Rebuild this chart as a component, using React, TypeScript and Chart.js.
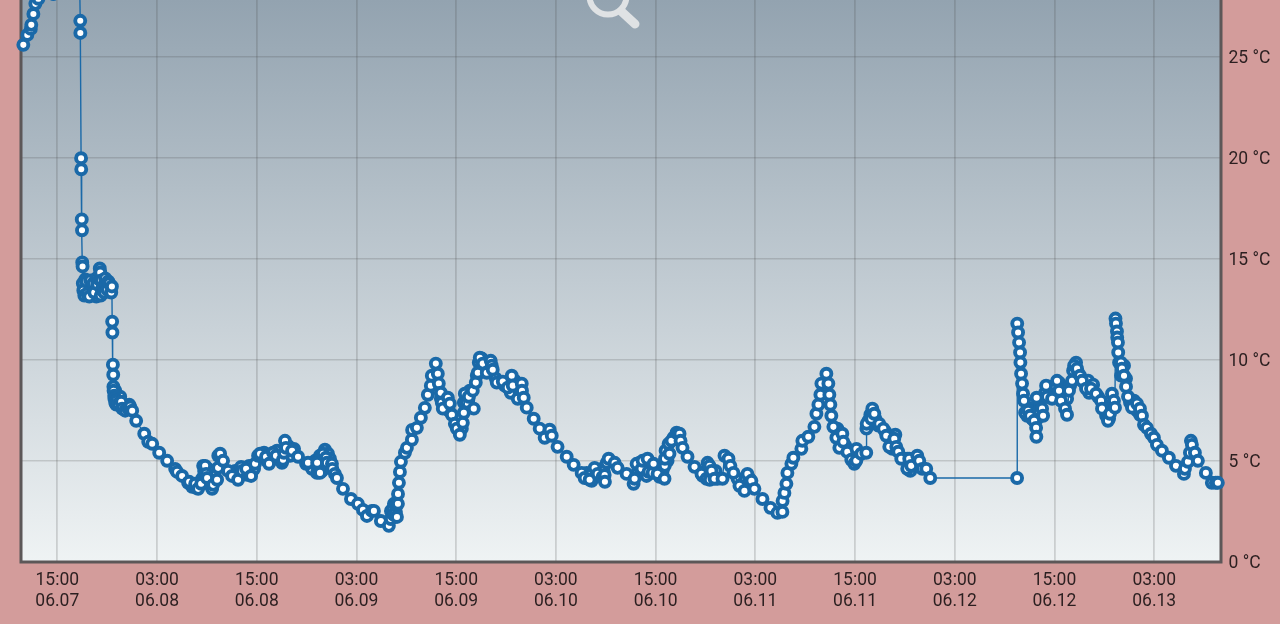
import React, { useEffect, useRef } from "react";
import { Chart, registerables } from "chart.js";

Chart.register(...registerables);

// hours after 15:00 on 06.07
const hours = [
  -4.09, -3.61, -3.19, -3.13, -2.88, -2.64, -2.28, -1.44, -0.48, 1.56,
  2.7, 2.76, 2.77, 2.86, 2.88, 2.94, 2.97, 3.0, 3.04, 3.07,
  3.13, 3.25, 3.49, 3.61, 3.85, 3.97, 4.33, 4.45, 4.69, 4.81,
  5.05, 5.11, 5.17, 5.23, 5.29, 5.35, 5.53, 5.65, 5.77, 5.89,
  6.01, 6.13, 6.25, 6.49, 6.57, 6.6, 6.63, 6.69, 6.73, 6.75,
  6.77, 6.85, 6.87, 6.97, 7.09, 7.33, 7.69, 7.81, 8.17, 8.53,
  8.77, 9.01, 9.49, 10.46, 10.94, 11.42, 12.26, 13.22, 14.18, 14.42,
  15.02, 15.74, 15.87, 16.59, 16.95, 17.31, 17.67, 17.79, 17.91, 18.03,
  18.75, 19.23, 19.35, 19.37, 19.59, 19.95, 20.55, 21.03, 21.75, 22.24,
  22.72, 23.32, 23.8, 24.16, 24.4, 25.12, 25.48, 25.96, 26.32, 27.16,
  27.28, 27.4, 27.52, 28.25, 28.97, 29.93, 30.17, 31.25, 31.27, 31.61,
  31.97, 32.33, 32.45, 33.05, 33.1, 33.41, 33.65, 34.38, 35.34, 36.18,
  36.78, 37.26, 37.86, 38.1, 38.94, 39.9, 40.14, 40.38, 40.5, 40.62,
  40.75, 40.87, 40.99, 41.0, 41.11, 41.23, 41.35, 41.83, 42.07, 42.67,
  42.7, 43.27, 43.75, 44.23, 44.59, 44.95, 45.07, 45.55, 45.79, 45.91,
  46.15, 46.27, 46.39, 47.0, 47.24, 47.48, 47.84, 48.08, 48.44, 48.8,
  48.92, 49.04, 49.52, 50.0, 50.12, 50.36, 50.6, 50.84, 51.2, 51.68,
  52.16, 52.28, 52.4, 52.88, 53.61, 54.21, 54.69, 54.81, 55.41, 55.89,
  55.92, 56.13, 56.49, 57.33, 58.05, 58.65, 59.25, 59.5, 60.2, 61.3,
  62.14, 63.1, 63.46, 64.06, 64.66, 65.03, 65.6, 65.87, 65.9, 66.11,
  66.35, 67.07, 67.43, 68.51, 69.35, 69.47, 69.71, 70.31, 70.43, 70.91,
  71.03, 71.15, 71.63, 71.75, 72.23, 73.07, 73.1, 73.13, 73.67, 73.91,
  74.52, 74.88, 75.0, 75.24, 75.84, 76.68, 77.52, 78.13, 78.49, 78.52,
  78.73, 79.09, 80.05, 80.29, 80.77, 81.0, 81.37, 82.09, 82.69, 83.05,
  83.53, 83.89, 84.86, 85.82, 86.66, 87.26, 87.28, 87.5, 87.74, 87.86,
  88.34, 88.58, 89.54, 89.66, 90.38, 91.11, 91.35, 91.59, 91.83, 91.95,
  92.55, 92.79, 92.91, 93.03, 93.15, 93.39, 93.75, 94.11, 94.47, 94.59,
  95.07, 95.55, 95.91, 96.15, 96.17, 96.75, 97.35, 97.37, 97.4, 97.96,
  98.08, 98.32, 98.92, 99.4, 99.76, 100.12, 100.72, 100.96, 101.2, 101.56,
  102.28, 102.52, 102.76, 103.49, 103.73, 104.09, 104.57, 105.05, 115.5, 115.52,
  115.62, 115.74, 115.86, 115.9, 115.98, 116.1, 116.22, 116.34, 116.46, 116.83,
  117.07, 117.55, 117.79, 117.82, 117.85, 118.15, 118.51, 118.63, 118.99, 119.11,
  119.71, 120.31, 120.55, 120.79, 121.27, 121.51, 121.75, 122.11, 122.36, 122.72,
  123.08, 123.32, 123.8, 124.4, 125.0, 125.6, 125.72, 126.44, 126.68, 126.92,
  127.16, 127.28, 127.34, 127.4, 127.52, 127.55, 127.64, 127.67, 128.0, 128.12,
  128.37, 128.61, 128.85, 129.33, 129.93, 130.29, 130.53, 130.77, 131.13, 131.61,
  131.97, 132.33, 132.93, 133.77, 134.62, 135.58, 135.7, 136.06, 136.3, 136.42,
  136.54, 136.9, 137.26, 138.22, 138.94, 139.42, 139.66,
];

const temps = [
  25.6, 26.09, 26.39, 26.59, 27.13, 27.63, 27.88, 28.42, 28.12, 28.82,
  28.32, 26.79, 26.19, 19.99, 19.44, 16.96, 16.42, 14.83, 14.63, 13.79,
  13.44, 13.19, 13.89, 13.29, 13.14, 13.94, 13.79, 13.34, 14.04, 13.74,
  13.99, 14.53, 14.33, 13.19, 13.94, 13.49, 13.64, 13.34, 14.04, 13.74,
  13.49, 13.89, 13.79, 13.34, 13.64, 11.9, 11.36, 9.77, 9.27, 8.68,
  8.48, 8.23, 8.08, 7.88, 7.98, 7.83, 7.93, 7.59, 7.49, 7.59,
  7.69, 7.49, 6.99, 6.35, 5.95, 5.85, 5.41, 5.01, 4.61, 4.46,
  4.26, 3.92, 3.97, 3.87, 3.62, 3.87, 4.51, 4.76, 4.36, 4.16,
  3.82, 4.07, 4.66, 5.26, 5.36, 5.01, 4.51, 4.26, 4.07, 4.51,
  4.61, 4.26, 4.86, 5.26, 5.36, 5.21, 4.86, 5.41, 5.26, 5.06,
  5.41, 6.0, 5.65, 5.51, 5.21, 4.86, 4.91, 4.41, 4.91, 4.41,
  5.36, 5.16, 4.91, 4.86, 4.61, 4.36, 4.16, 3.62, 3.12, 2.88,
  2.58, 2.28, 2.53, 2.53, 2.03, 1.79, 2.13, 2.63, 2.33, 2.38,
  2.78, 2.23, 2.88, 3.37, 3.92, 4.46, 4.96, 5.41, 5.65, 6.05,
  6.54, 6.64, 7.14, 7.63, 8.28, 8.73, 9.22, 9.82, 9.32, 8.83,
  8.38, 7.88, 7.59, 8.13, 7.84, 7.29, 6.84, 6.6, 6.3, 6.89,
  7.39, 8.33, 8.18, 8.48, 7.59, 8.88, 9.37, 10.11, 9.82, 9.37,
  9.96, 9.72, 9.52, 8.88, 8.93, 8.63, 9.22, 8.73, 8.08, 8.83,
  8.48, 8.13, 7.64, 7.09, 6.6, 6.15, 6.55, 6.25, 5.7, 5.21,
  4.81, 4.41, 4.16, 4.07, 4.66, 4.36, 4.2, 4.31, 3.97, 4.91,
  5.11, 4.91, 4.66, 4.36, 3.87, 4.12, 4.86, 4.61, 5.01, 4.26,
  5.11, 4.46, 4.41, 4.86, 4.36, 4.12, 4.76, 5.11, 5.36, 6.0,
  6.4, 6.35, 6.0, 5.65, 5.21, 4.71, 4.36, 4.12, 4.76, 4.07,
  4.51, 4.12, 4.12, 5.26, 5.11, 4.76, 4.41, 3.77, 3.52, 4.36,
  4.02, 3.62, 3.12, 2.68, 2.43, 2.48, 3.02, 3.42, 3.87, 4.41,
  4.86, 5.16, 5.6, 6.0, 6.2, 6.69, 7.34, 7.79, 8.28, 8.83,
  9.32, 8.83, 8.28, 7.79, 7.24, 6.69, 6.15, 5.65, 6.35, 5.95,
  5.45, 5.06, 4.86, 5.01, 5.6, 5.36, 5.41, 6.6, 6.84, 7.09,
  7.59, 7.34, 6.84, 6.6, 6.25, 5.7, 6.1, 5.7, 5.46, 5.11,
  4.61, 5.11, 4.76, 5.26, 5.01, 4.61, 4.61, 4.16, 4.16, 11.8,
  11.36, 10.86, 10.37, 9.87, 9.32, 8.83, 8.33, 7.98, 7.39, 7.49,
  7.24, 6.99, 6.64, 6.2, 8.13, 7.49, 7.59, 7.24, 8.73, 8.18,
  8.08, 8.97, 8.48, 7.98, 7.59, 7.29, 8.48, 8.97, 9.72, 9.57,
  9.22, 8.97, 8.58, 8.58, 8.33, 7.98, 7.59, 6.99, 7.34, 8.33,
  7.98, 7.64, 12.05, 11.8, 11.41, 11.11, 10.86, 10.37, 9.87, 9.57,
  9.22, 8.68, 8.18, 7.64, 7.84, 7.59, 7.24, 6.79, 6.64, 6.35,
  6.15, 5.8, 5.51, 5.16, 4.76, 4.36, 4.61, 4.96, 5.41, 6.0,
  5.8, 5.41, 5.01, 4.41, 3.92, 3.92, 3.92,
];

// readings buried in the dense clumps, drawn beneath the main trace
const clumpHours = [
  16.23, 16.71, 17.07, 17.43, 17.67, 17.55, 18.15, 18.39, 18.63, 18.87,
  21.4, 21.76, 22.12, 22.48, 22.84, 23.08, 23.44, 23.68,
  24.88, 25.24, 25.6, 26.08, 26.44, 26.8, 27.04, 27.77, 28.01, 28.49,
  30.65, 31.01, 31.37, 31.61, 31.85, 32.21, 32.57, 32.81, 31.85,
  40.15, 40.39, 40.75, 40.51,
  46.16, 46.52, 46.76, 47.12, 48.08, 48.68, 48.92, 49.28, 49.64,
  50.48, 50.72, 51.08, 51.33, 51.93, 52.77, 53.25, 53.85, 54.57, 55.05, 55.65,
  63.71, 64.07, 64.31, 65.27, 65.51, 65.75,
  69.84, 70.08, 70.68, 71.28, 72.0, 72.48, 72.84, 73.44, 73.2, 73.56, 74.16,
  77.65, 78.01, 78.25, 78.61, 78.85, 79.21, 79.45,
  81.86, 82.46, 82.82, 83.3,
  93.88, 94.24, 94.84, 96.28,
  97.6, 97.84, 98.44, 98.8, 99.64, 100.37, 100.49, 100.85,
  101.93, 102.29, 102.65, 103.01, 103.25, 103.49, 103.97,
  116.71, 117.07, 117.31, 117.55, 117.91, 118.27,
  118.88, 119.36, 119.6, 119.96, 120.08, 120.56, 121.04, 121.52, 121.88, 122.24, 122.6, 122.84,
  123.57, 124.05, 124.17, 124.65, 125.25, 125.97, 126.21, 126.57,
  127.77, 128.01, 128.37, 128.61, 129.09, 129.57, 129.93, 130.29,
  3.25, 3.37, 3.73, 4.09, 4.21, 4.69, 4.93,
  6.97, 7.21, 7.09, 7.57, 8.05, 8.65,
];

const clumpTemps = [
  3.72, 3.67, 3.82, 4.12, 4.22, 4.76, 4.61, 3.82, 3.62, 4.02,
  4.51, 4.41, 4.71, 4.41, 4.32, 4.76, 4.51, 4.61,
  5.41, 5.01, 5.26, 5.11, 5.51, 5.26, 4.91, 5.75, 5.26, 5.6,
  4.61, 5.01, 4.61, 5.26, 4.91, 5.56, 5.36, 5.11, 4.51,
  2.53, 2.28, 2.48, 2.88,
  8.08, 8.08, 7.74, 7.49, 7.09, 6.6, 7.89, 7.89, 8.48,
  9.23, 9.87, 10.07, 9.47, 9.67, 9.08, 8.93, 8.73, 8.38, 8.98, 8.33,
  4.41, 4.32, 4.02, 4.51, 4.61, 4.51,
  4.41, 4.91, 4.71, 4.81, 4.61, 4.22, 4.51, 5.01, 5.51, 5.85, 6.15,
  4.27, 4.51, 4.91, 4.27, 4.41, 4.51, 4.12,
  4.12, 3.87, 4.12, 4.12,
  6.6, 6.2, 5.75, 5.21,
  6.99, 7.29, 7.09, 6.75, 6.45, 6.0, 5.6, 6.3,
  5.11, 5.11, 4.51, 5.11, 5.01, 4.76, 4.71,
  7.24, 7.59, 7.09, 7.49, 7.09, 7.74,
  8.38, 8.68, 8.38, 8.23, 8.73, 8.88, 8.23, 8.08, 8.73, 9.47, 9.87, 9.37,
  8.88, 8.98, 8.38, 8.78, 8.18, 7.74, 7.24, 7.09,
  9.87, 9.23, 9.72, 9.08, 7.89, 7.99, 7.49, 7.29,
  13.59, 13.99, 13.69, 13.24, 13.44, 13.14, 13.44,
  8.48, 8.13, 7.79, 8.18, 7.69, 7.79,
];

const tickHours = [0, 12, 24, 36, 48, 60, 72, 84, 96, 108, 120, 132];
const tickTimes = ["15:00", "03:00", "15:00", "03:00", "15:00", "03:00", "15:00", "03:00", "15:00", "03:00", "15:00", "03:00"];
const tickDates = ["06.07", "06.08", "06.08", "06.09", "06.09", "06.10", "06.10", "06.11", "06.11", "06.12", "06.12", "06.13"];
const tempTicks = [0, 5, 10, 15, 20, 25];

const PINK = "#d39c9b";
const BLUE = "#1a69a8";
const TEXT = "#2b1f20";

const panel = {
  id: "panel",
  beforeDraw(chart: any) {
    const { ctx, chartArea: a } = chart;
    const g = ctx.createLinearGradient(0, a.top, 0, a.bottom);
    g.addColorStop(0, "#93a3b0");
    g.addColorStop(1, "#eff3f4");
    ctx.save();
    ctx.fillStyle = g;
    ctx.fillRect(a.left, a.top, a.right - a.left, a.bottom - a.top);
    ctx.restore();
  },
  beforeDatasetsDraw(chart: any) {
    const { ctx, chartArea: a } = chart;
    ctx.save();
    ctx.strokeStyle = "#5c5758";
    ctx.lineWidth = 3;
    ctx.beginPath();
    ctx.moveTo(a.left, a.top);
    ctx.lineTo(a.left, a.bottom);
    ctx.lineTo(a.right, a.bottom);
    ctx.lineTo(a.right, a.top);
    ctx.stroke();
    // magnifier icon, cut by the top of the view
    ctx.strokeStyle = "#dfe2e4";
    ctx.lineWidth = 6;
    ctx.beginPath();
    ctx.arc(608, -4, 18.5, 0, Math.PI * 2);
    ctx.stroke();
    ctx.lineWidth = 9;
    ctx.lineCap = "round";
    ctx.beginPath();
    ctx.moveTo(622, 12);
    ctx.lineTo(635, 24);
    ctx.stroke();
    ctx.restore();
  },
};

function fixSize(size: { width?: number; height?: number }) {
  return (scale: any) => {
    if (size.width) scale.width = size.width;
    if (size.height) scale.height = size.height;
    scale.paddingTop = 0;
    scale.paddingBottom = 0;
    scale.paddingLeft = 0;
    scale.paddingRight = 0;
  };
}

const pointStyle = {
  pointRadius: 5,
  pointBorderWidth: 3.9,
  pointBackgroundColor: "#ffffff",
  pointBorderColor: BLUE,
  clip: false as any,
};

export default function App() {
  const ref = useRef<HTMLCanvasElement>(null);
  useEffect(() => {
    const chart = new Chart(ref.current as HTMLCanvasElement, {
      type: "line",
      data: {
        datasets: [
          {
            data: hours.map((h, i) => ({ x: h, y: temps[i] })),
            borderColor: BLUE,
            borderWidth: 1.4,
            tension: 0,
            order: 0,
            ...pointStyle,
          },
          {
            data: clumpHours.map((h, i) => ({ x: h, y: clumpTemps[i] })),
            showLine: false,
            order: 1,
            ...pointStyle,
          },
        ],
      },
      options: {
        animation: false,
        responsive: false,
        devicePixelRatio: 1,
        layout: { autoPadding: false, padding: { left: 21, top: 0, right: 0, bottom: 0 } },
        plugins: { legend: { display: false }, tooltip: { enabled: false } },
        scales: {
          x: {
            type: "linear",
            min: -4.37,
            max: 140.04,
            afterBuildTicks: (s: any) => {
              s.ticks = tickHours.map((v) => ({ value: v }));
            },
            afterFit: fixSize({ height: 62 }),
            border: { display: false },
            grid: { color: "rgba(70,70,70,0.2)", lineWidth: 1.8, drawTicks: false },
            ticks: {
              autoSkip: false,
              maxRotation: 0,
              minRotation: 0,
              padding: 8,
              color: TEXT,
              font: { family: "Roboto", size: 17.5, lineHeight: 1.2 },
              callback: (_v: any, i: number) => [tickTimes[i], tickDates[i]],
            },
          },
          y: {
            type: "linear",
            position: "right",
            min: 0,
            max: 27.82,
            afterBuildTicks: (s: any) => {
              s.ticks = tempTicks.map((v) => ({ value: v }));
            },
            afterFit: fixSize({ width: 59 }),
            border: { display: false },
            grid: { color: "rgba(70,70,70,0.2)", lineWidth: 1.5, drawTicks: false },
            ticks: {
              padding: 7.5,
              labelOffset: 1.5,
              color: TEXT,
              font: { family: "Roboto", size: 17.5 },
              callback: (v: any) => `${v} °C`,
            },
          },
        },
      },
      plugins: [panel],
    } as any);
    return () => chart.destroy();
  }, []);
  return (
    <div style={{ position: "fixed", inset: 0, background: PINK, overflow: "hidden" }}>
      <canvas ref={ref} width={1280} height={624} style={{ display: "block", width: 1280, height: 624 }} />
    </div>
  );
}
